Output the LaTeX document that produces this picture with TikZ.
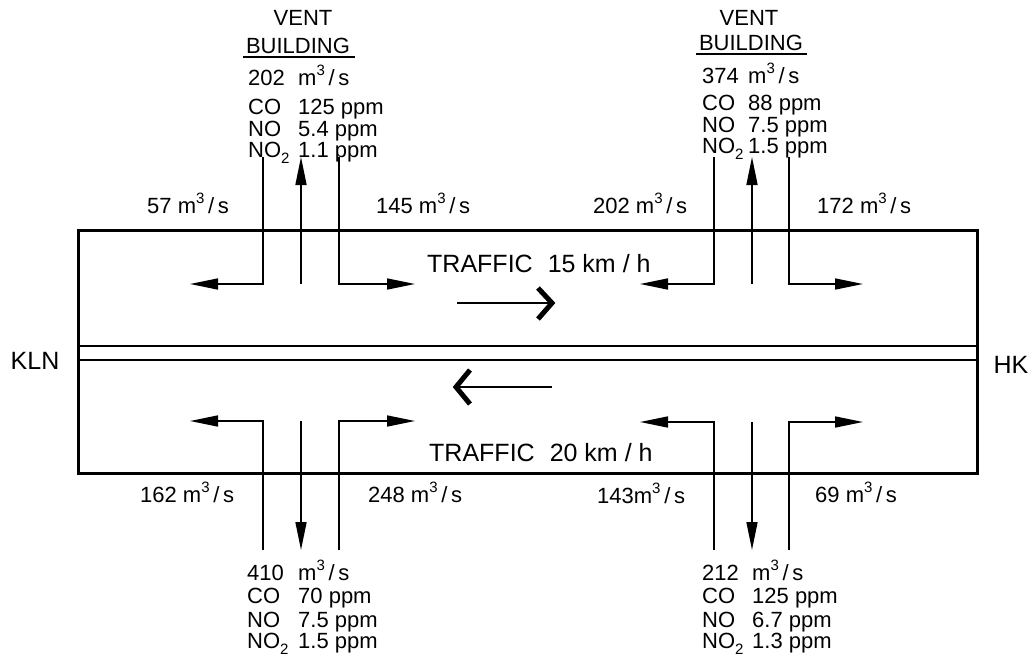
\documentclass[tikz,border=0pt]{standalone}
\usepackage{fontspec}
\setmainfont{Liberation Sans}
\usetikzlibrary{arrows.meta}
\newcommand{\msup}{m\raisebox{0.42em}{\fontsize{15}{15}\selectfont 3}\,/\,s}
\newcommand{\notwo}{NO\raisebox{-0.25em}{\fontsize{15}{15}\selectfont 2}}
\begin{document}
\begin{tikzpicture}[x=1pt,y=-1pt,
  lettering/.style={font=\fontsize{22}{21}\selectfont, inner sep=0pt},
  bigtext/.style={font=\fontsize{25}{25}\selectfont, inner sep=0pt},
  placetext/.style={font=\fontsize{25}{25}\selectfont, inner sep=0pt},
  tube/.style={line width=3pt},
  median/.style={line width=2pt},
  flow/.style={line width=1.6pt, -{Triangle[length=28pt,width=11pt]}},
  duct/.style={line width=1.6pt},
  chevron/.style={line width=5pt, line join=miter},
  uline/.style={line width=1.5pt}]
\useasboundingbox (0,0) rectangle (1033,667);

% tunnel tube
\coordinate (tNW) at (78,230);
\coordinate (tSE) at (977,473);
\draw[tube] (tNW) rectangle (tSE);
\coordinate (m1W) at (78,346); \coordinate (m1E) at (977,346);
\coordinate (m2W) at (78,360); \coordinate (m2E) at (977,360);
\draw[median] (m1W) -- (m1E);
\draw[median] (m2W) -- (m2E);

% top-left vent shaft
\coordinate (a1) at (263,157); \coordinate (a1t) at (190,284);
\coordinate (a2) at (301,284); \coordinate (a2t) at (301,157);
\coordinate (a3) at (339,157); \coordinate (a3t) at (415,284);
\draw[flow] (a1) |- (a1t);
\draw[flow] (a2) -- (a2t);
\draw[flow] (a3) |- (a3t);

% top-right vent shaft
\coordinate (b1) at (714,157); \coordinate (b1t) at (640,284);
\coordinate (b2) at (752,284); \coordinate (b2t) at (752,157);
\coordinate (b3) at (789,157); \coordinate (b3t) at (863,284);
\draw[flow] (b1) |- (b1t);
\draw[flow] (b2) -- (b2t);
\draw[flow] (b3) |- (b3t);

% bottom-left shaft
\coordinate (c1) at (263,550); \coordinate (c1t) at (190,421);
\coordinate (c2) at (301,421); \coordinate (c2t) at (301,550);
\coordinate (c3) at (339,550); \coordinate (c3t) at (415,421);
\draw[flow] (c1) |- (c1t);
\draw[flow] (c2) -- (c2t);
\draw[flow] (c3) |- (c3t);

% bottom-right shaft
\coordinate (d1) at (714,550); \coordinate (d1t) at (640,422);
\coordinate (d2) at (752,422); \coordinate (d2t) at (752,550);
\coordinate (d3) at (789,550); \coordinate (d3t) at (863,422);
\draw[flow] (d1) |- (d1t);
\draw[flow] (d2) -- (d2t);
\draw[flow] (d3) |- (d3t);

% traffic arrows
\coordinate (e1) at (457,303); \coordinate (e2) at (552,303);
\coordinate (e3) at (538,288); \coordinate (e4) at (538,319);
\draw[duct] (e1) -- (e2);
\draw[chevron] (e3) -- (e2) -- (e4);
\coordinate (f1) at (552,387); \coordinate (f2) at (456,387);
\coordinate (f3) at (470,370); \coordinate (f4) at (470,404);
\draw[duct] (f1) -- (f2);
\draw[chevron] (f3) -- (f2) -- (f4);

% vent building labels
\node[lettering, anchor=base] (v1) at (303,25) {VENT};
\node[lettering, anchor=base] (v2) at (298,53) {BUILDING};
\coordinate (u1a) at (243,57); \coordinate (u1b) at (355,57);
\draw[uline] (u1a) -- (u1b);
\node[lettering, anchor=base] (w1) at (749,25) {VENT};
\node[lettering, anchor=base] (w2) at (751,50) {BUILDING};
\coordinate (u2a) at (696,54); \coordinate (u2b) at (807,54);
\draw[uline] (u2a) -- (u2b);

% data blocks
\node[lettering, anchor=base west] (k1) at (248,85)
  {\begin{tabular}[t]{@{}p{50pt}@{}l@{}}202 & \msup\\[8pt] CO & 125 ppm\\ NO & 5.4 ppm\\ \notwo & 1.1 ppm\end{tabular}};
\node[lettering, anchor=base west] (k2) at (702,83)
  {\begin{tabular}[t]{@{}p{46pt}@{}l@{}}374 & \msup\\[6pt] CO & 88 ppm\\ NO & 7.5 ppm\\ \notwo & 1.5 ppm\end{tabular}};
\node[lettering, anchor=base west] (k3) at (247,580)
  {\begin{tabular}[t]{@{}p{51pt}@{}l@{}}410 & \msup\\[2pt] CO & 70 ppm\\[2pt] NO & 7.5 ppm\\ \notwo & 1.5 ppm\end{tabular}};
\node[lettering, anchor=base west] (k4) at (702,580)
  {\begin{tabular}[t]{@{}p{50pt}@{}l@{}}212 & \msup\\[2pt] CO & 125 ppm\\[2pt] NO & 6.7 ppm\\ \notwo & 1.3 ppm\end{tabular}};

% flow labels
\node[lettering, anchor=base west] (q1) at (147,213) {57 \msup};
\node[lettering, anchor=base west] (q2) at (376,213) {145 \msup};
\node[lettering, anchor=base west] (q3) at (593,213) {202 \msup};
\node[lettering, anchor=base west] (q4) at (817,213) {172 \msup};
\node[lettering, anchor=base west] (q5) at (140,502) {162 \msup};
\node[lettering, anchor=base west] (q6) at (368,502) {248 \msup};
\node[lettering, anchor=base west] (q7) at (597,503) {143\msup};
\node[lettering, anchor=base west] (q8) at (815,502) {69 \msup};

% traffic labels
\node[bigtext, anchor=base west] (t1) at (427,272) {TRAFFIC\hspace{0.6em}15 km / h};
\node[bigtext, anchor=base west] (t2) at (429,461) {TRAFFIC\hspace{0.6em}20 km / h};

% portals
\node[placetext] (kln) at (35,361) {KLN};
\node[placetext] (hk) at (1011,365) {HK};
\end{tikzpicture}
\end{document}
